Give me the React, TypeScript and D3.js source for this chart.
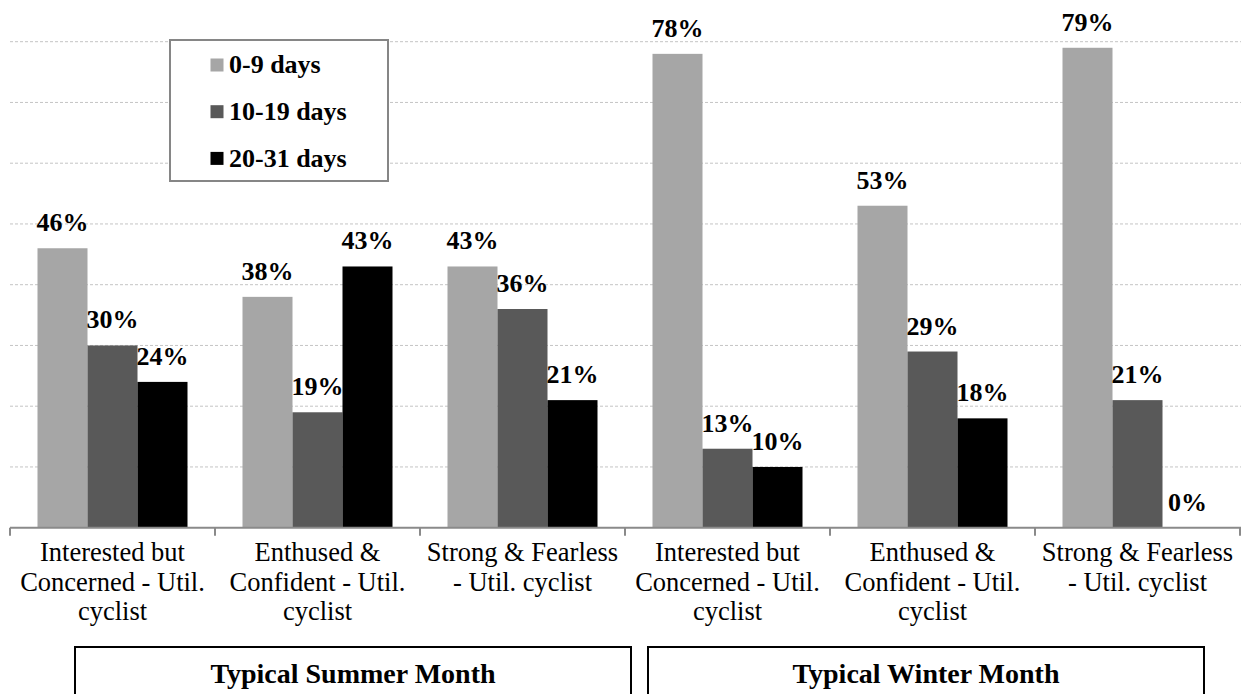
import React from "react";
import * as d3 from "d3";

const seriesNames = ["0-9 days", "10-19 days", "20-31 days"];
const seriesColors = ["#a6a6a6", "#595959", "#000000"];

const categories = [
  "Interested but|Concerned - Util.|cyclist",
  "Enthused &|Confident - Util.|cyclist",
  "Strong & Fearless|- Util. cyclist",
  "Interested but|Concerned - Util.|cyclist ",
  "Enthused &|Confident - Util.|cyclist ",
  "Strong & Fearless|- Util. cyclist ",
];

const days0to9 = [0.46, 0.38, 0.43, 0.78, 0.53, 0.79];
const days10to19 = [0.3, 0.19, 0.36, 0.13, 0.29, 0.21];
const days20to31 = [0.24, 0.43, 0.21, 0.1, 0.18, 0.0];

const seasonLabels = ["Typical Summer Month", "Typical Winter Month"];
const gridTicks = [0.1, 0.2, 0.3, 0.4, 0.5, 0.6, 0.7, 0.8];

const W = 1241;
const H = 694;
const FONT = "Liberation Serif, Times New Roman, Times, DejaVu Serif, serif";

export default function App() {
  const series = [days0to9, days10to19, days20to31];
  const x0 = d3.scaleBand<string>().domain(categories).range([10, 1240]).padding(0);
  const x1 = d3
    .scaleBand<string>()
    .domain(seriesNames)
    .range([0, x0.bandwidth()])
    .paddingInner(0)
    .paddingOuter(0.55);
  const y = d3.scaleLinear().domain([0, 0.8]).range([527.7, 41.7]);
  const fmt = d3.format(".0%");
  const baseY = y(0);

  const boundaries = categories.map((c) => x0(c) as number).concat([1240]);

  const seasonBoxes = [
    { x: 75, w: 556 },
    { x: 648, w: 556 },
  ];

  const tStyle = { fontFamily: FONT };

  return (
    <svg
      width={W}
      height={H}
      style={{ position: "absolute", left: 0, top: 0, background: "#fff", fontFamily: FONT }}
    >
      {gridTicks.map((t) => (
        <line
          key={t}
          x1={10}
          x2={W}
          y1={y(t)}
          y2={y(t)}
          stroke="#c4c4c4"
          strokeWidth={1}
          strokeDasharray="3,2"
        />
      ))}

      {categories.map((c, ci) =>
        seriesNames.map((s, si) => {
          const v = series[si][ci];
          const bx = (x0(c) as number) + (x1(s) as number);
          return (
            <rect
              key={c + s}
              x={bx}
              y={y(v)}
              width={x1.bandwidth()}
              height={baseY - y(v)}
              fill={seriesColors[si]}
            />
          );
        })
      )}

      {categories.map((c, ci) =>
        seriesNames.map((s, si) => {
          const v = series[si][ci];
          const cx = (x0(c) as number) + (x1(s) as number) + x1.bandwidth() / 2;
          return (
            <text
              key={"l" + c + s}
              x={cx}
              y={y(v) - 17}
              textAnchor="middle"
              fontWeight="bold"
              fontSize={26}
              fill="#000"
              style={tStyle}
            >
              {fmt(v)}
            </text>
          );
        })
      )}

      <line x1={10} x2={W} y1={baseY} y2={baseY} stroke="#8a8a8a" strokeWidth={2} />
      {boundaries.map((bx, i) => (
        <line key={"t" + i} x1={bx} x2={bx} y1={baseY} y2={baseY + 8} stroke="#8a8a8a" strokeWidth={2} />
      ))}

      {categories.map((c) => {
        const cx = (x0(c) as number) + x0.bandwidth() / 2;
        const lines = c.trim().split("|");
        return (
          <text key={"c" + c} textAnchor="middle" fontSize={26.5} fill="#000" style={tStyle}>
            {lines.map((ln, li) => (
              <tspan key={li} x={cx} y={561 + li * 29.7}>
                {ln}
              </tspan>
            ))}
          </text>
        );
      })}

      {seasonBoxes.map((b, i) => (
        <g key={"s" + i}>
          <rect x={b.x} y={647} width={b.w} height={60} fill="#fff" stroke="#000" strokeWidth={2} />
          <text
            x={b.x + b.w / 2}
            y={683}
            textAnchor="middle"
            fontWeight="bold"
            fontSize={28}
            fill="#000"
            style={tStyle}
          >
            {seasonLabels[i]}
          </text>
        </g>
      ))}

      <rect x={170} y={40} width={218} height={141} fill="#fff" stroke="#868686" strokeWidth={2} />
      {seriesNames.map((s, i) => (
        <g key={"lg" + s}>
          <rect x={210.5} y={58.5 + i * 46.7} width={13} height={13} fill={seriesColors[i]} />
          <text x={229} y={73.3 + i * 46.7} fontWeight="bold" fontSize={26} fill="#000" style={tStyle}>
            {s}
          </text>
        </g>
      ))}
    </svg>
  );
}
